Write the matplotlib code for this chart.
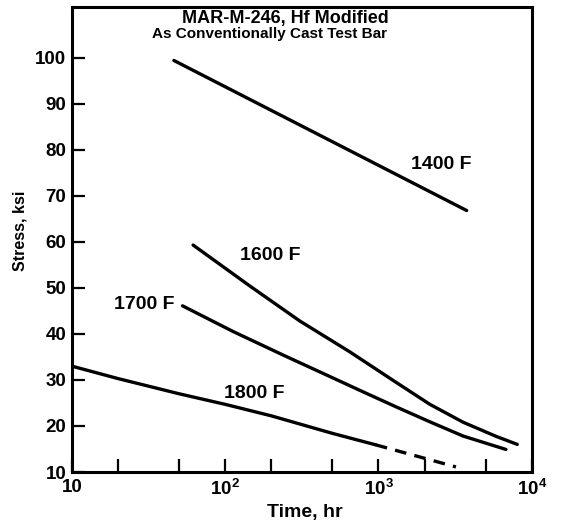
import matplotlib
matplotlib.use('Agg')
import matplotlib.pyplot as plt

plt.rcParams['font.family'] = ['Liberation Sans', 'DejaVu Sans']
plt.rcParams['font.weight'] = 'bold'
plt.rcParams['mathtext.default'] = 'regular'

# данные (время в часах, напряжение в ksi)
t_1400 = [46.3, 3760]
s_1400 = [99.4, 66.8]

t_1600 = [61.8, 145, 307, 650, 1313, 2163, 3571, 5893, 8035]
s_1600 = [59.3, 50.4, 42.8, 36.1, 29.4, 24.7, 20.8, 17.7, 16.0]

t_1700 = [52.7, 113, 239, 507, 795, 1313, 2163, 3571, 6780]
s_1700 = [46.1, 40.5, 35.4, 30.4, 27.4, 24.1, 20.9, 17.8, 14.9]

t_1800 = [10, 20, 50, 100, 200, 500, 960]
s_1800 = [33.0, 30.3, 27.0, 24.7, 22.2, 18.4, 15.9]
t_1800_ext = [960, 3200]
s_1800_ext = [15.9, 11.1]

curve_labels = ['1400 F', '1600 F', '1700 F', '1800 F']
label_t = [2580, 196, 29.9, 154]
label_s = [76.7, 57.0, 46.3, 27.0]

x_ticks = [10, 20, 50, 100, 200, 500, 1000, 2000, 5000, 10000]
x_tick_labels = ['10', '', '', '$10^{2}$', '', '', '$10^{3}$', '', '', '$10^{4}$']
y_ticks = [10, 20, 30, 40, 50, 60, 70, 80, 90, 100]

title_lines = ['MAR-M-246, Hf Modified', 'As Conventionally Cast Test Bar']

fig = plt.figure(figsize=(5.61, 5.23), dpi=100)
ax = fig.add_axes([0.128, 0.0975, 0.820, 0.889])

lw = 2.4
ax.plot(t_1400, s_1400, color='black', lw=lw, solid_capstyle='round')
ax.plot(t_1600, s_1600, color='black', lw=lw, solid_capstyle='round', solid_joinstyle='round')
ax.plot(t_1700, s_1700, color='black', lw=lw, solid_capstyle='round', solid_joinstyle='round')
ax.plot(t_1800, s_1800, color='black', lw=lw, solid_capstyle='round', solid_joinstyle='round')
ax.plot(t_1800_ext, s_1800_ext, color='black', lw=lw, linestyle=(0, (3.5, 2.5)))

for txt, tx, sy in zip(curve_labels, label_t, label_s):
    ax.text(tx, sy, txt, ha='center', va='center', fontsize=14, fontweight='bold')

# заголовок внутри поля графика
ax.text(0.239, 0.966, title_lines[0], transform=ax.transAxes, ha='left',
        va='baseline', fontsize=13, fontweight='bold')
ax.text(0.174, 0.934, title_lines[1], transform=ax.transAxes, ha='left',
        va='baseline', fontsize=11, fontweight='bold')

ax.set_xscale('log')
ax.set_xlim(10, 10000)
ax.set_ylim(10, 111)
ax.set_xticks(x_ticks)
ax.set_xticklabels(x_tick_labels)
ax.xaxis.set_minor_locator(matplotlib.ticker.NullLocator())
ax.set_yticks(y_ticks)

ax.tick_params(direction='in', length=9.5, width=1.6, labelsize=13.5, pad=5)
ax.tick_params(axis='y', pad=4)
for sp in ax.spines.values():
    sp.set_linewidth(2.2)

ax.set_xlabel('Time, hr', fontsize=14, fontweight='bold')
ax.xaxis.set_label_coords(0.507, -0.069)
ax.set_ylabel('Stress, ksi', fontsize=11.5, fontweight='bold')
ax.yaxis.set_label_coords(-0.097, 0.518)

fig.savefig('out.png', dpi=100)
